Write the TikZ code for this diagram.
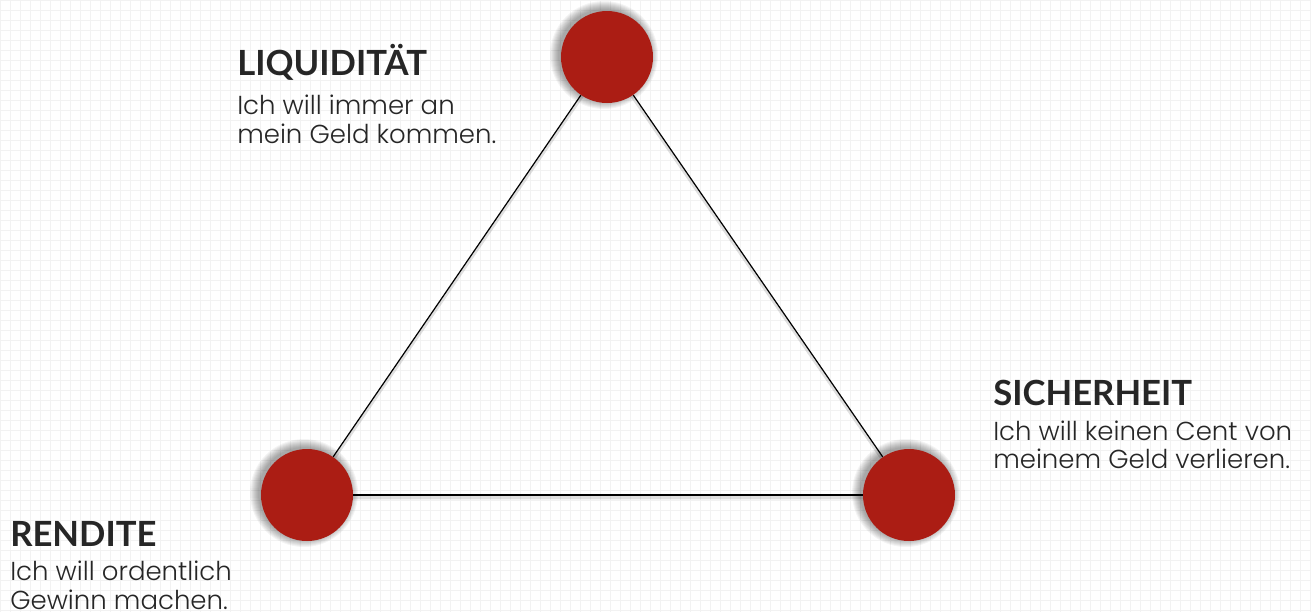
\documentclass[tikz,border=0pt]{standalone}
\usepackage{fontspec}
\usepackage{tikz}
\usetikzlibrary{positioning}
\usetikzlibrary{backgrounds}
\usetikzlibrary{calc}
\newfontfamily\titlefont{Lato}[UprightFont=* Bold]
\newfontfamily\bodyfont{Poppins}[UprightFont=* Light]
\definecolor{dotred}{HTML}{AB1D14}
\definecolor{gridgray}{HTML}{F2F2F2}
\tikzset{
  % Common styles for the triangle
  dot/.style={circle, fill=dotred, minimum size=69pt, inner sep=0pt},
  glow/.style={fill=black, opacity=0.045},
  edge/.style={draw, black, line width=0.9pt},
  edgeshadow/.style={draw, black, line width=2.5pt, opacity=0.12, transform canvas={yshift=-2pt}},
  heading/.style={anchor=base west, inner sep=0pt, font=\titlefont\fontsize{26}{30}\selectfont, text=black!85},
  caption/.style={anchor=north west, inner sep=0pt, align=left, font=\bodyfont\fontsize{19.5}{21.5}\selectfont, text=black!85}
}

\begin{document}
\begin{tikzpicture}[x=0.75pt, y=-0.75pt]
    \useasboundingbox (0,0) rectangle (1311,612);

    % Place nodes
    \node [dot] (liq) at (607,57) {};
    \node [dot] (ren) at (307,495) {};
    \node [dot] (sich) at (909,495) {};

    \begin{pgfonlayer}{background}
    % Background
    \fill[white] (0,0) rectangle (1311,612);
    \draw[gridgray, line width=0.4pt, step=7.5pt] (0,0) grid (1311,612);

    % Draw edges behind the dots
    \path [edgeshadow] (liq.center) -- (ren.center) -- (sich.center) -- cycle;
    \path [edge] (liq) -- (ren);
    \path [edge] (ren) -- (sich);
    \path [edge] (sich) -- (liq);

    % Soft shadows of the dots
    \foreach \n in {liq,ren,sich}
      \foreach \r in {1,...,9}
        \fill [glow] ($(\n.center)+(-3,-2)$) circle [radius=45+\r];
    \end{pgfonlayer}

    % Labels
    \node [heading] (liqtitle) at (237,75) {LIQUIDITÄT};
    \node [caption, below=11pt of liqtitle.south west, anchor=north west] (liqtext) {Ich will immer an\\mein Geld kommen.};
    \node [heading] (sichtitle) at (993,405) {SICHERHEIT};
    \node [caption, below=11pt of sichtitle.south west, anchor=north west] (sichtext) {Ich will keinen Cent von\\meinem Geld verlieren.};
    \node [heading] (rentitle) at (10,546) {RENDITE};
    \node [caption, below=11pt of rentitle.south west, anchor=north west] (rentext) {Ich will ordentlich\\Gewinn machen.};
\end{tikzpicture}
\end{document}
